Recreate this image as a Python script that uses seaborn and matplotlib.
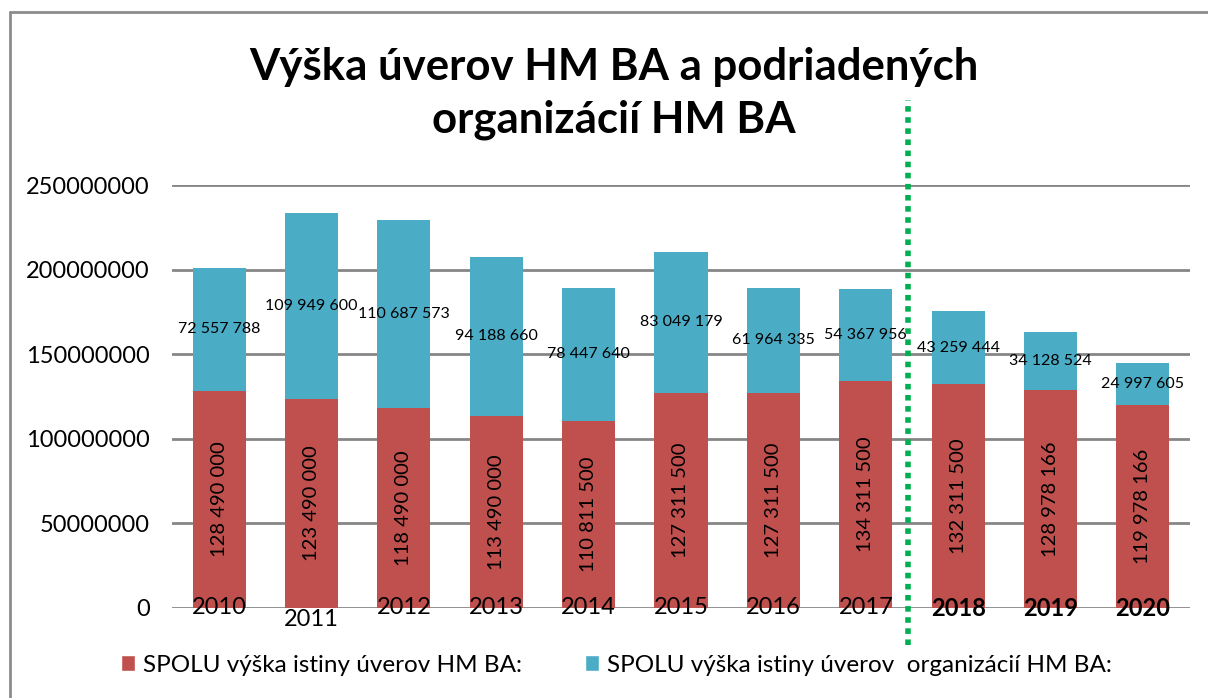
import numpy as np
import pandas as pd
import seaborn as sns
import matplotlib.pyplot as plt
from matplotlib.patches import Patch
from matplotlib.lines import Line2D
from matplotlib.transforms import offset_copy

years = ['2010', '2011', '2012', '2013', '2014', '2015', '2016', '2017', '2018', '2019', '2020']
hm_ba = [128490000, 123490000, 118490000, 113490000, 110811500, 127311500,
         127311500, 134311500, 132311500, 128978166, 119978166]
org = [72557788, 109949600, 110687573, 94188660, 78447640, 83049179,
       61964335, 54367956, 43259444, 34128524, 24997605]
legend_labels = ['SPOLU výška istiny úverov HM BA:',
                 'SPOLU výška istiny úverov  organizácií HM BA:']

df = pd.DataFrame({'rok': years, 'hm_ba': hm_ba, 'org': org})
df['spolu'] = df['hm_ba'] + df['org']

red = '#C0504D'
blue = '#4BACC6'

sns.set_style('white')
plt.rcParams['font.family'] = ['Lato', 'DejaVu Sans']
plt.rcParams['text.color'] = 'black'
plt.rcParams['xtick.color'] = 'black'
plt.rcParams['ytick.color'] = 'black'

fig = plt.figure(figsize=(12.08, 6.98), dpi=100)
ax = fig.add_axes([172 / 1208, 1 - 608 / 698, (1190 - 172) / 1208, (608 - 185) / 698])

# stacked bars: total first (blue), then HM BA part (red) over it
sns.barplot(data=df, x='rok', y='spolu', color=blue, saturation=1, width=0.575,
            linewidth=0, ax=ax, zorder=3)
sns.barplot(data=df, x='rok', y='hm_ba', color=red, saturation=1, width=0.575,
            linewidth=0, ax=ax, zorder=3)

fmt = lambda v: '{:,}'.format(v).replace(',', ' ')
for i, row in df.iterrows():
    ax.text(i, row['hm_ba'] / 2, fmt(row['hm_ba']), rotation=90, ha='center', va='center',
            fontsize=14.5, zorder=5)
    ax.text(i, row['hm_ba'] + row['org'] / 2, fmt(row['org']), ha='center', va='center',
            fontsize=11.5, zorder=5)

ax.set_ylim(0, 250000000)
ax.set_xlim(-0.51, 10.51)
ax.set_yticks([0, 50000000, 100000000, 150000000, 200000000, 250000000])
ax.set_yticklabels(['0', '50000000', '100000000', '150000000', '200000000', '250000000'])
ax.yaxis.grid(True, color='#868686', lw=2, zorder=0)
ax.set_axisbelow(True)
for s in ax.spines.values():
    s.set_visible(False)
ax.set_xlabel('')
ax.set_ylabel('')
ax.tick_params(axis='y', length=0, labelsize=17, pad=16)
ax.tick_params(axis='x', length=0, labelsize=17, pad=-8)
ax.xaxis.set_zorder(4)

for lbl in ax.get_xticklabels():
    if lbl.get_text() in ('2018', '2019', '2020'):
        lbl.set_fontweight('bold')
    if lbl.get_text() == '2011':
        lbl.set_transform(offset_copy(lbl.get_transform(), fig=fig, y=-12, units='dots'))

# green dotted separator between 2017 and 2018
ax.plot([7.46, 7.46], [-22000000, 300000000], color='#00B050', lw=4,
        linestyle=(0, (1, 1)), dash_capstyle='butt', clip_on=False, zorder=6)

fig.text(0.508, 0.866, 'Výška úverov HM BA a podriadených\norganizácií HM BA',
         ha='center', va='center', fontsize=31.5, fontweight='bold', linespacing=1.4)

handles = [Patch(facecolor=red), Patch(facecolor=blue)]
fig.legend(handles, legend_labels, loc='center', bbox_to_anchor=(0.51, 0.047), ncol=2,
           frameon=False, fontsize=17.5, handlelength=0.6, handleheight=0.6,
           handletextpad=0.3, columnspacing=2.6)

# chart frame
fig.add_artist(Line2D([10 / 1208, 10 / 1208], [0, 1 - 12 / 698], transform=fig.transFigure,
                      color='#8c8c8c', lw=2))
fig.add_artist(Line2D([10 / 1208, 1], [1 - 12 / 698, 1 - 12 / 698], transform=fig.transFigure,
                      color='#8c8c8c', lw=2))

fig.savefig('out.png', dpi=100)
